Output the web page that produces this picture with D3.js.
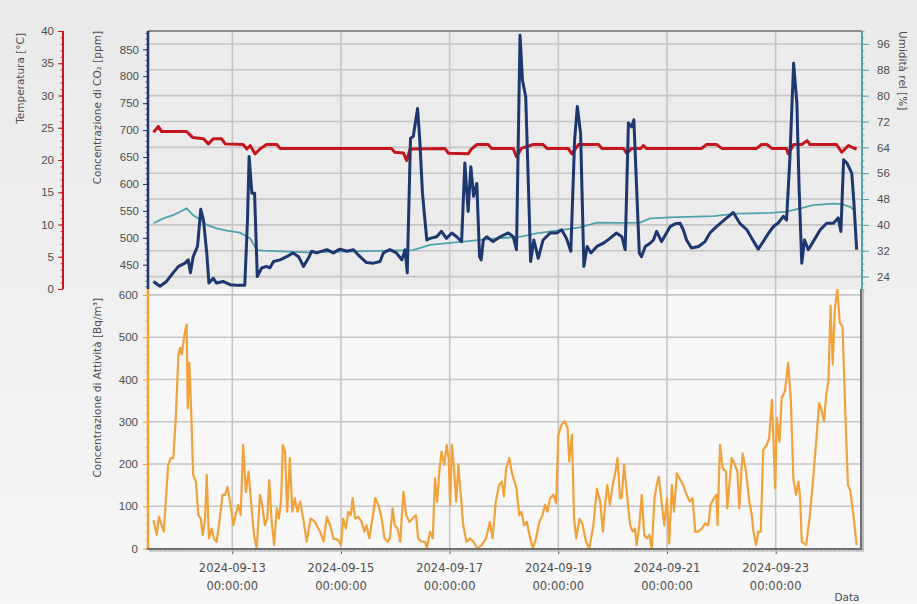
<!DOCTYPE html>
<html>
<head>
<meta charset="utf-8">
<script src="https://cdn.jsdelivr.net/npm/d3@7"></script>
<style>
body { margin: 0; background: #eeeeee; }
svg { display: block; font-family: "DejaVu Sans", sans-serif; }
.axis text { fill: #4d4d4d; font-size: 11.5px; }
.axis .domain { display: none; }
.title { fill: #4d4d4d; font-size: 10.5px; }
</style>
</head>
<body>
<script>
// days are decimal days of September 2024
const temperature = [
  [11.55,24.3],[11.64,25.2],[11.70,24.4],[12.16,24.4],[12.27,23.5],[12.47,23.3],[12.56,22.5],[12.65,23.3],
  [12.80,23.3],[12.87,22.5],[13.20,22.4],[13.27,21.7],[13.33,22.25],[13.42,20.95],[13.51,21.7],[13.63,22.4],
  [13.82,22.4],[13.88,21.8],[15.93,21.8],[15.99,21.2],[16.15,21.1],[16.21,19.9],[16.27,21.7],[16.91,21.8],
  [16.98,21.05],[17.34,20.95],[17.40,21.7],[17.50,22.4],[17.71,22.4],[17.77,21.8],[18.17,21.8],[18.23,20.5],
  [18.32,21.8],[18.54,22.4],[18.72,22.4],[18.79,21.8],[19.18,21.8],[19.25,20.95],[19.37,22.4],[19.74,22.4],
  [19.80,21.8],[20.20,21.8],[20.26,21.0],[20.35,21.8],[20.52,21.8],[20.565,22.25],[20.62,21.8],[21.64,21.8],
  [21.73,22.4],[21.91,22.4],[22.01,21.8],[22.65,21.8],[22.74,22.4],[22.84,22.4],[22.93,21.8],[23.20,21.8],
  [23.23,20.95],[23.33,22.4],[23.48,22.4],[23.58,23.0],[23.63,22.4],[24.12,22.4],[24.215,21.2],[24.34,22.25],
  [24.42,21.9],[24.49,21.7]
];

const humidity = [
  [11.55,40.5],[11.73,42.0],[11.91,43.0],[12.16,45.1],[12.28,43.0],[12.41,41.7],[12.53,40.0],[12.71,38.9],
  [12.90,38.2],[13.14,37.6],[13.33,35.8],[13.45,32.2],[13.57,32.0],[13.76,31.9],[14.37,31.5],[14.98,31.7],
  [15.90,32.0],[16.33,32.2],[16.64,33.8],[17.25,34.8],[17.86,35.8],[18.29,36.3],[18.60,37.4],[19.03,38.4],
  [19.40,39.2],[19.71,40.7],[20.17,40.6],[20.50,40.7],[20.69,42.0],[21.06,42.3],[21.85,42.7],[22.28,43.5],
  [22.90,43.7],[23.20,44.1],[23.45,45.1],[23.69,46.1],[24.06,46.6],[24.215,46.4],[24.37,45.6],[24.46,44.4]
];

const co2 = [
  [11.55,419],[11.67,410],[11.79,419],[11.91,435],[12.01,447],[12.13,453],[12.19,459],[12.23,435],[12.28,465],
  [12.36,484],[12.42,553],[12.47,533],[12.53,472],[12.57,416],[12.65,425],[12.71,416],[12.83,419],[12.96,413],
  [13.08,412],[13.23,412],[13.28,533],[13.31,651],[13.36,583],[13.41,583],[13.46,428],[13.54,444],[13.63,447],
  [13.69,444],[13.76,456],[13.88,459],[14.00,465],[14.12,472],[14.22,465],[14.31,447],[14.40,462],[14.46,475],
  [14.55,472],[14.74,478],[14.86,472],[14.98,479],[15.11,475],[15.23,478],[15.35,465],[15.47,454],[15.60,453],
  [15.72,456],[15.78,472],[15.90,478],[16.02,472],[16.12,459],[16.18,478],[16.22,435],[16.28,685],[16.33,688],
  [16.41,740],[16.45,682],[16.50,583],[16.53,549],[16.58,496],[16.64,499],[16.76,502],[16.85,512],[16.94,499],
  [17.04,509],[17.13,502],[17.22,493],[17.28,639],[17.34,549],[17.39,632],[17.44,577],[17.50,601],[17.55,465],
  [17.58,459],[17.62,496],[17.68,502],[17.80,493],[17.93,502],[18.08,509],[18.17,502],[18.23,478],[18.295,876],
  [18.34,793],[18.40,762],[18.45,595],[18.49,456],[18.55,496],[18.63,462],[18.72,496],[18.85,509],[18.97,509],
  [19.06,515],[19.15,499],[19.23,475],[19.30,682],[19.35,744],[19.41,694],[19.47,447],[19.53,484],[19.60,472],
  [19.71,484],[19.83,490],[19.95,499],[20.07,509],[20.17,502],[20.23,478],[20.29,713],[20.35,706],[20.39,719],
  [20.44,595],[20.49,472],[20.53,465],[20.60,484],[20.69,490],[20.75,496],[20.81,512],[20.90,493],[20.99,509],
  [21.06,521],[21.15,526],[21.24,527],[21.30,515],[21.36,496],[21.45,481],[21.58,484],[21.70,493],[21.79,509],
  [21.88,518],[21.98,527],[22.10,537],[22.22,547],[22.34,527],[22.47,515],[22.56,499],[22.68,479],[22.77,493],
  [22.87,509],[22.96,521],[23.05,528],[23.14,540],[23.20,533],[23.26,645],[23.33,824],[23.39,750],[23.43,595],
  [23.48,453],[23.53,496],[23.60,478],[23.69,493],[23.82,515],[23.94,527],[24.06,527],[24.15,537],[24.20,512],
  [24.25,645],[24.31,639],[24.40,620],[24.44,564],[24.49,478]
];

const radon = [
  [11.55,67],[11.61,32],[11.65,75],[11.70,55],[11.74,40],[11.78,119],[11.82,198],[11.87,214],[11.915,214],
  [11.96,309],[12.01,459],[12.04,475],[12.07,459],[12.12,506],[12.16,530],[12.18,332],[12.21,439],[12.24,340],
  [12.28,174],[12.33,158],[12.375,79],[12.42,71],[12.455,32],[12.50,71],[12.53,174],[12.57,24],[12.62,47],
  [12.66,24],[12.71,16],[12.755,55],[12.82,127],[12.87,127],[12.91,146],[12.96,111],[13.02,55],[13.06,79],
  [13.11,103],[13.155,79],[13.20,245],[13.25,134],[13.30,182],[13.34,119],[13.40,32],[13.45,0],[13.51,127],
  [13.55,103],[13.60,55],[13.645,71],[13.68,162],[13.725,63],[13.77,8],[13.82,95],[13.86,71],[13.90,119],
  [13.93,245],[13.97,229],[14.01,87],[14.06,214],[14.105,87],[14.15,119],[14.20,87],[14.25,111],[14.31,67],
  [14.37,16],[14.44,71],[14.52,63],[14.615,40],[14.68,16],[14.74,75],[14.80,55],[14.86,24],[14.95,20],
  [15.00,8],[15.04,71],[15.09,47],[15.135,87],[15.18,79],[15.215,119],[15.26,71],[15.32,75],[15.38,63],
  [15.43,40],[15.47,55],[15.52,24],[15.58,71],[15.63,119],[15.69,103],[15.75,71],[15.80,24],[15.86,16],
  [15.90,24],[15.95,95],[15.99,55],[16.04,47],[16.09,16],[16.15,134],[16.20,79],[16.26,63],[16.32,71],
  [16.38,79],[16.42,24],[16.485,16],[16.55,16],[16.58,0],[16.64,40],[16.69,24],[16.73,166],[16.77,111],
  [16.81,182],[16.85,229],[16.90,198],[16.945,245],[16.98,214],[17.01,103],[17.04,245],[17.08,190],[17.12,111],
  [17.16,198],[17.20,134],[17.25,55],[17.31,16],[17.375,24],[17.44,16],[17.51,0],[17.59,8],[17.67,24],
  [17.74,63],[17.79,24],[17.85,111],[17.91,150],[17.96,158],[18.00,123],[18.04,190],[18.10,214],[18.14,182],
  [18.23,142],[18.28,79],[18.32,87],[18.37,55],[18.42,63],[18.47,32],[18.53,0],[18.59,24],[18.65,63],
  [18.71,79],[18.755,103],[18.80,87],[18.85,119],[18.91,127],[18.96,107],[19.00,269],[19.06,293],[19.12,301],
  [19.17,285],[19.20,206],[19.25,269],[19.29,71],[19.33,24],[19.39,71],[19.45,55],[19.51,16],[19.57,0],
  [19.645,55],[19.71,142],[19.77,111],[19.82,40],[19.86,103],[19.90,150],[19.95,103],[20.00,150],[20.04,174],
  [20.09,214],[20.135,119],[20.165,119],[20.21,198],[20.26,134],[20.32,55],[20.37,40],[20.41,47],[20.44,8],
  [20.49,55],[20.535,127],[20.58,32],[20.63,24],[20.675,32],[20.72,0],[20.77,119],[20.81,150],[20.85,170],
  [20.90,111],[20.95,55],[21.00,119],[21.04,12],[21.09,150],[21.13,87],[21.18,178],[21.23,166],[21.30,150],
  [21.36,127],[21.42,111],[21.47,119],[21.52,40],[21.58,40],[21.64,47],[21.70,59],[21.76,55],[21.80,103],
  [21.865,119],[21.91,127],[21.93,55],[21.975,245],[22.025,190],[22.085,182],[22.11,95],[22.19,214],[22.25,198],
  [22.295,182],[22.33,95],[22.39,225],[22.455,182],[22.515,111],[22.56,79],[22.59,40],[22.64,8],[22.68,40],
  [22.725,40],[22.77,233],[22.835,245],[22.88,261],[22.93,352],[22.96,253],[22.99,142],[23.02,309],[23.07,253],
  [23.11,356],[23.17,372],[23.23,439],[23.28,348],[23.325,166],[23.375,127],[23.42,158],[23.45,119],[23.48,16],
  [23.56,8],[23.63,79],[23.69,166],[23.755,269],[23.80,344],[23.85,324],[23.89,301],[23.93,364],[23.97,396],
  [24.01,574],[24.05,435],[24.09,570],[24.135,613],[24.18,534],[24.23,526],[24.28,324],[24.33,150],[24.37,138],
  [24.43,79],[24.49,8]
];

const dateTickDays = [13, 15, 17, 19, 21, 23];
const dateTickLabels = ["2024-09-13", "2024-09-15", "2024-09-17", "2024-09-19", "2024-09-21", "2024-09-23"];
const timeTickLabel = "00:00:00";
const tempTicks = [0, 5, 10, 15, 20, 25, 30, 35, 40];
const co2Ticks = [450, 500, 550, 600, 650, 700, 750, 800, 850];
const humTicks = [24, 32, 40, 48, 56, 64, 72, 80, 88, 96];
const radonTicks = [0, 100, 200, 300, 400, 500, 600];

const toDate = d => new Date(new Date(2024, 8, 1).getTime() + (d - 1) * 864e5);

const svg = d3.select("body").append("svg")
  .attr("width", 917)
  .attr("height", 604);

const defs = svg.append("defs");
const bgGrad = defs.append("linearGradient").attr("id", "bg").attr("x1", 0).attr("y1", 0).attr("x2", 0).attr("y2", 1);
bgGrad.append("stop").attr("offset", "0%").attr("stop-color", "#e9e9e9");
bgGrad.append("stop").attr("offset", "100%").attr("stop-color", "#f6f6f6");
defs.append("clipPath").attr("id", "clipTop").append("rect")
  .attr("x", 148).attr("y", 31).attr("width", 713).attr("height", 258);
defs.append("clipPath").attr("id", "clipBottom").append("rect")
  .attr("x", 148).attr("y", 289).attr("width", 713).attr("height", 260);

svg.append("rect").attr("width", 917).attr("height", 604).attr("fill", "url(#bg)");

// scales
const x = d3.scaleTime().domain([toDate(11.449), toDate(24.57)]).range([148, 861]);
const yTemp = d3.scaleLinear().domain([0, 40]).range([289, 31]);
const yCo2 = d3.scaleLinear().domain([405, 884]).range([289, 31]);
const yHum = d3.scaleLinear().domain([20, 100]).range([289.5, 31]);
const yRadon = d3.scaleLinear().domain([0, 614]).range([548.5, 289]);

// panel backgrounds
svg.append("rect").attr("x", 148).attr("y", 31).attr("width", 713).attr("height", 258).attr("fill", "#ebebeb");
svg.append("rect").attr("x", 148).attr("y", 289).attr("width", 713).attr("height", 260).attr("fill", "#f7f7f7");

// grid lines
const grid = svg.append("g").attr("stroke", "#c6c6c6").attr("stroke-width", 1.6);
grid.selectAll(".hgTop").data(humTicks).enter().append("line")
  .attr("x1", 148).attr("x2", 861)
  .attr("y1", d => yHum(d)).attr("y2", d => yHum(d));
grid.selectAll(".hgBottom").data(radonTicks.slice(1)).enter().append("line")
  .attr("x1", 148).attr("x2", 861)
  .attr("y1", d => yRadon(d)).attr("y2", d => yRadon(d));
grid.selectAll(".vg").data(dateTickDays).enter().append("line")
  .attr("x1", d => x(toDate(d))).attr("x2", d => x(toDate(d)))
  .attr("y1", 31).attr("y2", 549);

// lines
const lineOf = (scale) => d3.line().x(d => x(toDate(d[0]))).y(d => scale(d[1]));

const topPanel = svg.append("g").attr("clip-path", "url(#clipTop)");
topPanel.append("path").datum(humidity).attr("d", lineOf(yHum))
  .attr("fill", "none").attr("stroke", "#4fa3ad").attr("stroke-width", 1.8);
topPanel.append("path").datum(temperature).attr("d", lineOf(yTemp))
  .attr("fill", "none").attr("stroke", "#c4161c").attr("stroke-width", 3).attr("stroke-linejoin", "round");
topPanel.append("path").datum(co2).attr("d", lineOf(yCo2))
  .attr("fill", "none").attr("stroke", "#1d3770").attr("stroke-width", 3).attr("stroke-linejoin", "round");

svg.append("g").attr("clip-path", "url(#clipBottom)")
  .append("path").datum(radon).attr("d", lineOf(yRadon))
  .attr("fill", "none").attr("stroke", "#f2a23a").attr("stroke-width", 2.2).attr("stroke-linejoin", "round");

// frame
svg.append("line").attr("x1", 148).attr("x2", 862).attr("y1", 31).attr("y2", 31)
  .attr("stroke", "#8d8d8d").attr("stroke-width", 2);
svg.append("line").attr("x1", 863).attr("x2", 863).attr("y1", 289).attr("y2", 551)
  .attr("stroke", "#bdbdbd").attr("stroke-width", 2);
svg.append("line").attr("x1", 861).attr("x2", 861).attr("y1", 289).attr("y2", 549)
  .attr("stroke", "#6e6e6e").attr("stroke-width", 2);

// axes helper
function drawAxis(axisFn, scale, at, color, major, minor, size, pad) {
  const g = svg.append("g").attr("class", "axis");
  g.append("g").attr("transform", at)
    .call(axisFn(scale).tickValues(minor).tickSize(2.5).tickFormat(""))
    .selectAll("line").attr("stroke", color).attr("stroke-width", 0.8);
  const m = g.append("g").attr("transform", at)
    .call(axisFn(scale).tickValues(major).tickSize(size).tickPadding(pad).tickFormat(d => d));
  m.selectAll("line").attr("stroke", color).attr("stroke-width", 1);
  return g;
}

const range = (a, b, s) => d3.range(a, b + s / 2, s);

// temperature axis
drawAxis(d3.axisLeft, yTemp, "translate(63,0)", "#c4161c", tempTicks, range(0, 40, 1), 5, 4);
svg.append("line").attr("x1", 63).attr("x2", 63).attr("y1", 31).attr("y2", 289)
  .attr("stroke", "#c4161c").attr("stroke-width", 2);

// co2 axis
drawAxis(d3.axisLeft, yCo2, "translate(148,0)", "#1d3770", co2Ticks, range(410, 880, 10), 5, 4);
svg.append("line").attr("x1", 148).attr("x2", 148).attr("y1", 31).attr("y2", 289)
  .attr("stroke", "#1d3770").attr("stroke-width", 2.5);

// radon axis
drawAxis(d3.axisLeft, yRadon, "translate(148,0)", "#f2a23a", radonTicks, range(0, 600, 20), 5, 5);
svg.append("line").attr("x1", 148).attr("x2", 148).attr("y1", 289).attr("y2", 549)
  .attr("stroke", "#f2a23a").attr("stroke-width", 2.5);

// humidity axis
drawAxis(d3.axisRight, yHum, "translate(862,0)", "#4fa3ad", humTicks, range(20, 100, 2), 7, 8);
svg.append("line").attr("x1", 862).attr("x2", 862).attr("y1", 31).attr("y2", 289)
  .attr("stroke", "#4fa3ad").attr("stroke-width", 2);

// time axis
const xg = svg.append("g").attr("class", "axis");
const hourTicks = d3.timeHour.every(2).range(x.domain()[0], x.domain()[1]);
xg.append("g").attr("transform", "translate(0,549)")
  .call(d3.axisBottom(x).tickValues(hourTicks).tickSize(2.5).tickFormat(""))
  .selectAll("line").attr("stroke", "#777").attr("stroke-width", 0.8);
xg.append("g").attr("transform", "translate(0,549)")
  .call(d3.axisBottom(x).tickValues(dateTickDays.map(toDate)).tickSize(5).tickFormat(""))
  .selectAll("line").attr("stroke", "#555");
svg.append("line").attr("x1", 147).attr("x2", 862).attr("y1", 549).attr("y2", 549)
  .attr("stroke", "#6e6e6e").attr("stroke-width", 2);
svg.append("line").attr("x1", 149).attr("x2", 864).attr("y1", 551).attr("y2", 551)
  .attr("stroke", "#c4c4c4").attr("stroke-width", 1.5);

const dateLabels = svg.append("g").attr("class", "axis").selectAll("text")
  .data(dateTickDays).enter().append("text")
  .attr("text-anchor", "middle")
  .attr("x", d => x(toDate(d)));
dateLabels.append("tspan").attr("x", d => x(toDate(d))).attr("y", 572)
  .text((d, i) => dateTickLabels[i]);
dateLabels.append("tspan").attr("x", d => x(toDate(d))).attr("y", 590)
  .text(timeTickLabel);

// titles
svg.append("text").attr("class", "title").attr("text-anchor", "end")
  .attr("transform", "translate(24,33) rotate(-90)").text("Temperatura [°C]");
svg.append("text").attr("class", "title").attr("text-anchor", "end")
  .attr("transform", "translate(101,31) rotate(-90)").text("Concentrazione di CO₂ [ppm]");
svg.append("text").attr("class", "title").attr("text-anchor", "end")
  .attr("transform", "translate(101,298) rotate(-90)").text("Concentrazione di Attività [Bq/m³]");
svg.append("text").attr("class", "title").attr("text-anchor", "start")
  .attr("transform", "translate(899,31) rotate(90)").text("Umidità rel [%]");
svg.append("text").attr("class", "title").attr("text-anchor", "middle")
  .attr("x", 847).attr("y", 601).text("Data");
</script>
</body>
</html>
